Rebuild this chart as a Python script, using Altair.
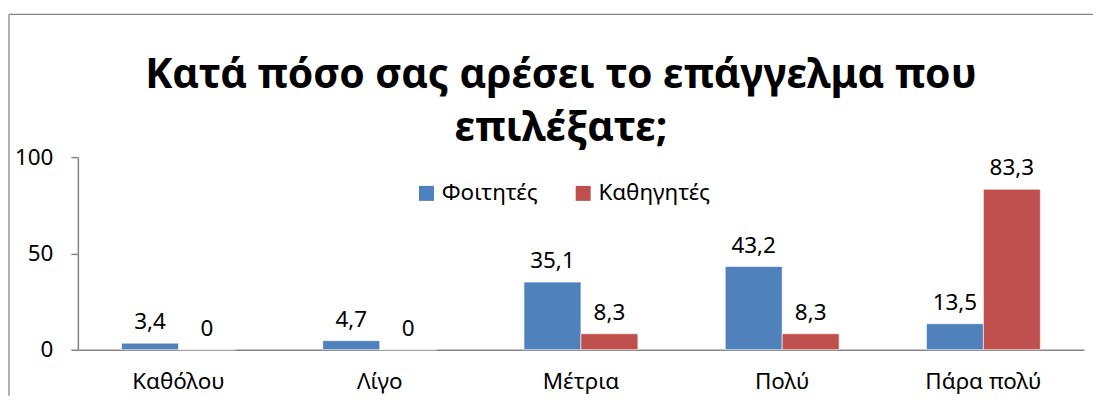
import altair as alt
import pandas as pd

categories = ["Καθόλου", "Λίγο", "Μέτρια", "Πολύ", "Πάρα πολύ"]
students = [3.4, 4.7, 35.1, 43.2, 13.5]
teachers = [0, 0, 8.3, 8.3, 83.3]
series = ["Φοιτητές", "Καθηγητές"]
colors = ["#4F81BD", "#C0504D"]
title_lines = ["Κατά πόσο σας αρέσει το επάγγελμα που", "επιλέξατε;"]
y_ticks = [0, 50, 100]

rows = []
for c, s, t in zip(categories, students, teachers):
    for name, v in ((series[0], s), (series[1], t)):
        rows.append({"cat": c, "series": name, "value": v,
                     "label": f"{v:g}".replace(".", ",")})
df = pd.DataFrame(rows)
one = pd.DataFrame({"k": [0]})

FONT = "Noto Sans"
FS = 22.5
W, H = 1008, 193
GRAY = "#868686"

x = alt.X("cat:N", sort=categories,
          scale=alt.Scale(paddingInner=0.434, paddingOuter=0.217),
          axis=alt.Axis(title=None, labelAngle=0, ticks=False, tickSize=0,
                        labelPadding=21, domainColor=GRAY, domainWidth=1.5,
                        labelFontSize=FS, labelColor="black", labelFont=FONT))
y = alt.Y("value:Q", scale=alt.Scale(domain=[0, 100]),
          axis=alt.Axis(title=None, values=y_ticks, grid=False, tickSize=7,
                        tickColor=GRAY, domainColor=GRAY, domainWidth=1.5,
                        tickWidth=1.5, labelPadding=18, labelFontSize=FS,
                        labelColor="black", labelFont=FONT))
xo = alt.XOffset("series:N", sort=series)

base = alt.Chart(df)
bars = base.mark_bar(stroke="white", strokeWidth=0.6).encode(
    x=x, xOffset=xo, y=y,
    color=alt.Color("series:N", sort=series,
                    scale=alt.Scale(domain=series, range=colors),
                    legend=alt.Legend(title=None, orient="none", legendX=338,
                                      legendY=25, direction="horizontal",
                                      symbolType="square", symbolSize=225,
                                      symbolStrokeWidth=0, labelFontSize=FS,
                                      labelFont=FONT, labelColor="black",
                                      columnPadding=34, symbolOffset=0)),
)
labels = base.mark_text(baseline="alphabetic", dy=-14, fontSize=FS,
                        font=FONT, color="black").encode(
    x=x, xOffset=xo, y=y, text="label:N")

ob = alt.Chart(one)
border_left = ob.mark_rule(color=GRAY, strokeWidth=1.3).encode(
    x=alt.value(-69), y=alt.value(-143), y2=alt.value(H + 46))
border_top = ob.mark_rule(color=GRAY, strokeWidth=1.3).encode(
    x=alt.value(-69), x2=alt.value(W + 9), y=alt.value(-143))

title1 = ob.mark_text(font=FONT, fontSize=41, fontWeight="bold",
                      color="black", baseline="middle").encode(
    x=alt.value(484), y=alt.value(-81), text=alt.value(title_lines[0]))
title2 = ob.mark_text(font=FONT, fontSize=41, fontWeight="bold",
                      color="black", baseline="middle").encode(
    x=alt.value(484), y=alt.value(-28), text=alt.value(title_lines[1]))

chart = alt.layer(border_left, border_top, title1, title2, bars, labels).properties(
    width=W, height=H,
    padding={"left": 0, "top": 5, "right": 0, "bottom": 0},
).configure_view(stroke=None)

chart.save("out.html", embed_options={"renderer": "svg", "actions": False})
